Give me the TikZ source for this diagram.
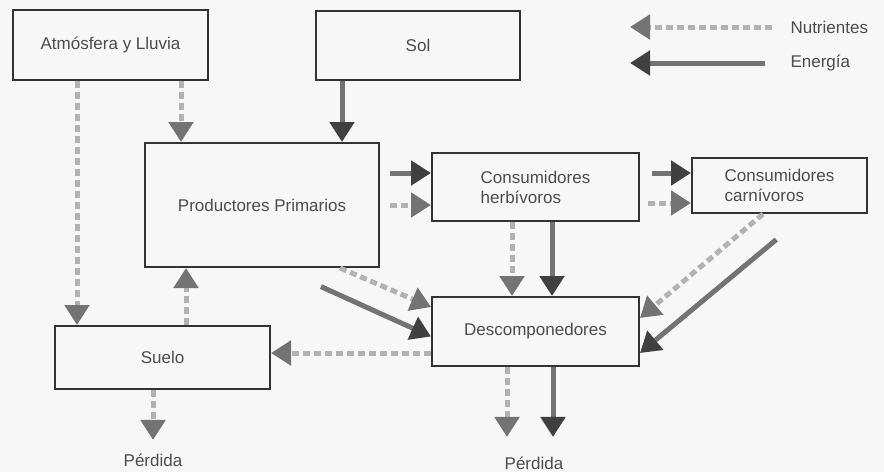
\documentclass[tikz,border=0pt]{standalone}
\usepackage{fontspec}
\setmainfont{Liberation Sans}
\usetikzlibrary{arrows.meta}
\tikzset{
  bloque/.style={draw=black!80,line width=2pt,text=black!70,font=\fontsize{17}{20}\selectfont},
  rotulo/.style={text=black!70,font=\fontsize{17}{20}\selectfont},
  energia/.style={line width=5pt,draw=black!55,-{Triangle[length=20pt,width=24pt,color=black!75]}},
  nutriente/.style={line width=5pt,draw=black!30,dash pattern=on 7pt off 4pt,-{Triangle[length=20pt,width=24pt,color=black!55]}}
}
\begin{document}
\begin{tikzpicture}[x=1pt,y=-1pt]
            \useasboundingbox[fill=black!3](0,0)rectangle(884,472);
            \node[bloque,minimum width=195pt,minimum height=70pt]at(110.5,45)(atm){Atmósfera y Lluvia};
            \node[bloque,minimum width=204pt,minimum height=69pt]at(418,45.5)(sol){Sol};
            \node[bloque,minimum width=234pt,minimum height=124pt]at(262,205)(prod){Productores Primarios};
            \node[bloque,align=left,minimum width=207pt,minimum height=68pt]at(535.5,187)(herb){Consumidores\\herbívoros};
            \node[bloque,align=left,minimum width=175pt,minimum height=55pt]at(779.5,185.5)(carn){Consumidores\\carnívoros};
            \node[bloque,minimum width=207pt,minimum height=69pt]at(535.5,331.5)(desc){Descomponedores};
            \node[bloque,minimum width=215pt,minimum height=63pt]at(162.5,357.5)(suelo){Suelo};
            \node[rotulo,anchor=base]at(153,466)(perd1){Pérdida};
            \node[rotulo,anchor=base]at(534,469)(perd2){Pérdida};
            \node[rotulo,anchor=west]at(787,27)(leynut){Nutrientes};
            \node[rotulo,anchor=west]at(787,63)(leyene){Energía};
            \draw[nutriente]([xshift=-15pt]leynut.west)--+(-142,0);
            \draw[energia]([xshift=-22pt]leyene.west)--+(-135,0);
            \draw[energia]([xshift=27pt]sol.south west)--([xshift=198pt]prod.north west);
            \draw[nutriente]([xshift=169pt]atm.south west)--([xshift=37pt]prod.north west);
            \draw[nutriente]([xshift=65pt]atm.south west)--([xshift=23pt]suelo.north west);
            \draw[energia,shorten <=10pt]([yshift=32pt]prod.east)--([yshift=14pt]herb.west);
            \draw[nutriente,shorten <=10pt](prod.east)--([yshift=-18pt]herb.west);
            \draw[energia,shorten <=12pt]([yshift=14pt]herb.east)--([yshift=12.5pt]carn.west);
            \draw[nutriente,shorten <=8pt]([yshift=-16pt]herb.east)--([yshift=-17.5pt]carn.west);
            \draw[nutriente]([xshift=-23.5pt]herb.south)--([xshift=-23.5pt]desc.north);
            \draw[energia]([xshift=16.5pt]herb.south)--([xshift=16.5pt]desc.north);
            \draw[nutriente,shorten >=16pt]([xshift=-28.5pt]desc.south)--([xshift=-27pt]perd2.north);
            \draw[energia,shorten >=16pt]([xshift=17.5pt]desc.south)--([xshift=19pt]perd2.north);
            \draw[nutriente,shorten >=10pt]([xshift=-9.5pt]suelo.south)--(perd1.north);
            \draw[nutriente]([yshift=-21.5pt]desc.west)--([yshift=4.5pt]suelo.east);
            \draw[nutriente]([xshift=132pt]suelo.north west)--([xshift=42pt]prod.south west);
            \draw[nutriente]([xshift=-40pt]prod.south east)--([yshift=24.5pt]desc.west);
            \draw[energia,shorten <=45pt]([xshift=18pt]prod.south)--([yshift=-5pt]desc.west);
            \draw[nutriente]([xshift=-16.5pt]carn.south)--([yshift=13.5pt]desc.east);
            \draw[energia,shorten <=40pt]([xshift=27.5pt]carn.south)--([yshift=-21.5pt]desc.east);
        \end{tikzpicture}
\end{document}
